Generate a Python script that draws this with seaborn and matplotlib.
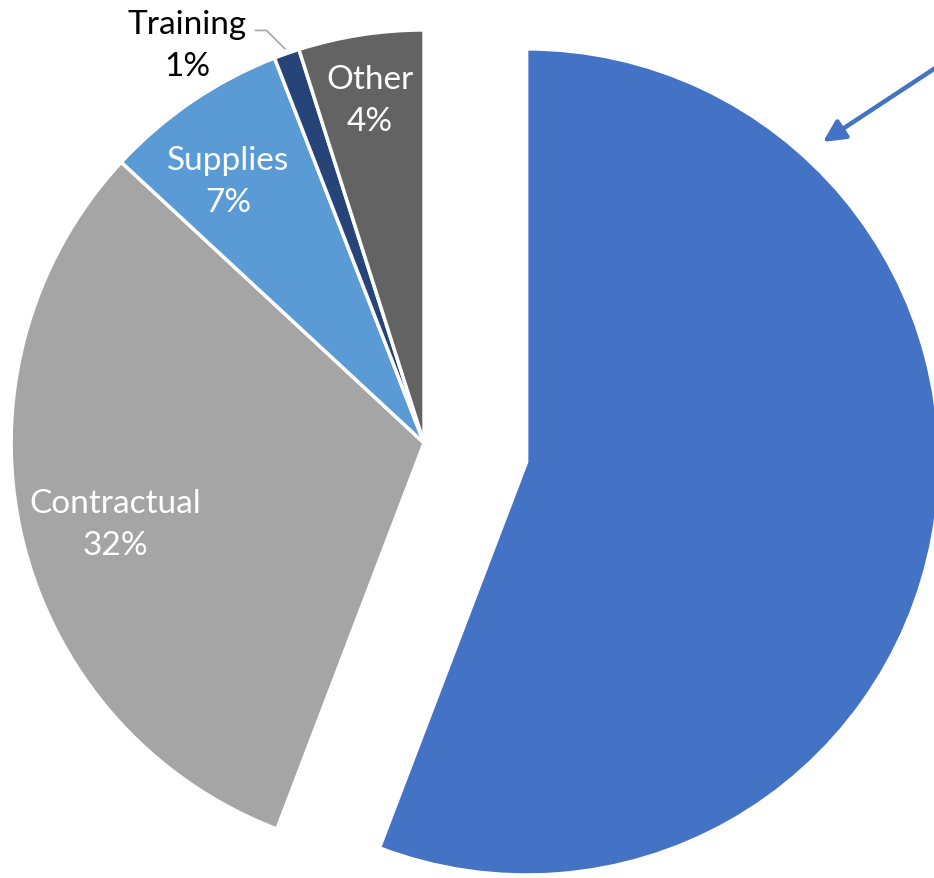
import numpy as np
import matplotlib
matplotlib.use("Agg")
import matplotlib.pyplot as plt
import seaborn as sns

# Data (slice sizes, labels as printed on it)
categories = ["Personnel", "Contractual", "Supplies", "Training", "Other"]
shares = [55.8, 31.1, 7.2, 1.0, 4.9]
pct_labels = ["56%", "32%", "7%", "1%", "4%"]
colors = ["#4472C4", "#A5A5A5", "#5B9BD5", "#264478", "#636363"]

sns.set_theme(style="white")
plt.rcParams["font.family"] = ["Lato", "DejaVu Sans"]

fig = plt.figure(figsize=(9.34, 8.79), dpi=100)
ax = fig.add_axes([0, 0, 1, 1])

wedges, _ = ax.pie(
    shares,
    colors=colors,
    startangle=90,
    counterclock=False,
    explode=[0.2526, 0, 0, 0, 0],
    wedgeprops=dict(edgecolor="white", linewidth=2.5),
)

# crop like the original screenshot (big slice runs off the right edge)
ax.set_xlim(-1.027, 1.235)
ax.set_ylim(-1.053, 1.075)
ax.set_aspect("auto")
ax.axis("off")

# in-slice labels (distance from centre, small angle nudge in degrees)
label_style = {
    "Contractual": (0.773, 1.6),
    "Supplies": (0.792, 2.6),
    "Other": (0.841, 0.2),
}
for w, name, lab in zip(wedges, categories, pct_labels):
    if name not in label_style:
        continue
    dist, nudge = label_style[name]
    ang = np.deg2rad((w.theta1 + w.theta2) / 2 + nudge)
    ax.text(dist * np.cos(ang), dist * np.sin(ang), f"{name}\n{lab}",
            ha="center", va="center", color="white", fontsize=24,
            linespacing=1.5)

# Training gets an outside label with a leader line
ti = categories.index("Training")
tw = wedges[ti]
tang = np.deg2rad((tw.theta1 + tw.theta2) / 2)
ax.annotate(f"Training\n{pct_labels[ti]}",
            xy=(1.012 * np.cos(tang), 1.012 * np.sin(tang)),
            xytext=(-0.574, 0.964), ha="center", va="center",
            fontsize=24, color="black", linespacing=1.5,
            arrowprops=dict(arrowstyle="-", color="#A5A5A5", lw=1.2,
                            shrinkA=4, shrinkB=0,
                            connectionstyle="angle,angleA=0,angleB=135,rad=0",
                            relpos=(1.0, 0.7)))

# callout arrow pointing at the exploded slice
ax.annotate("", xy=(0.966, 0.729), xytext=(1.249, 0.915),
            arrowprops=dict(arrowstyle="-|>,head_length=1.1,head_width=0.55",
                            color="#4472C4", lw=3.2, shrinkA=0, shrinkB=0))

fig.savefig("out.png", dpi=100)
